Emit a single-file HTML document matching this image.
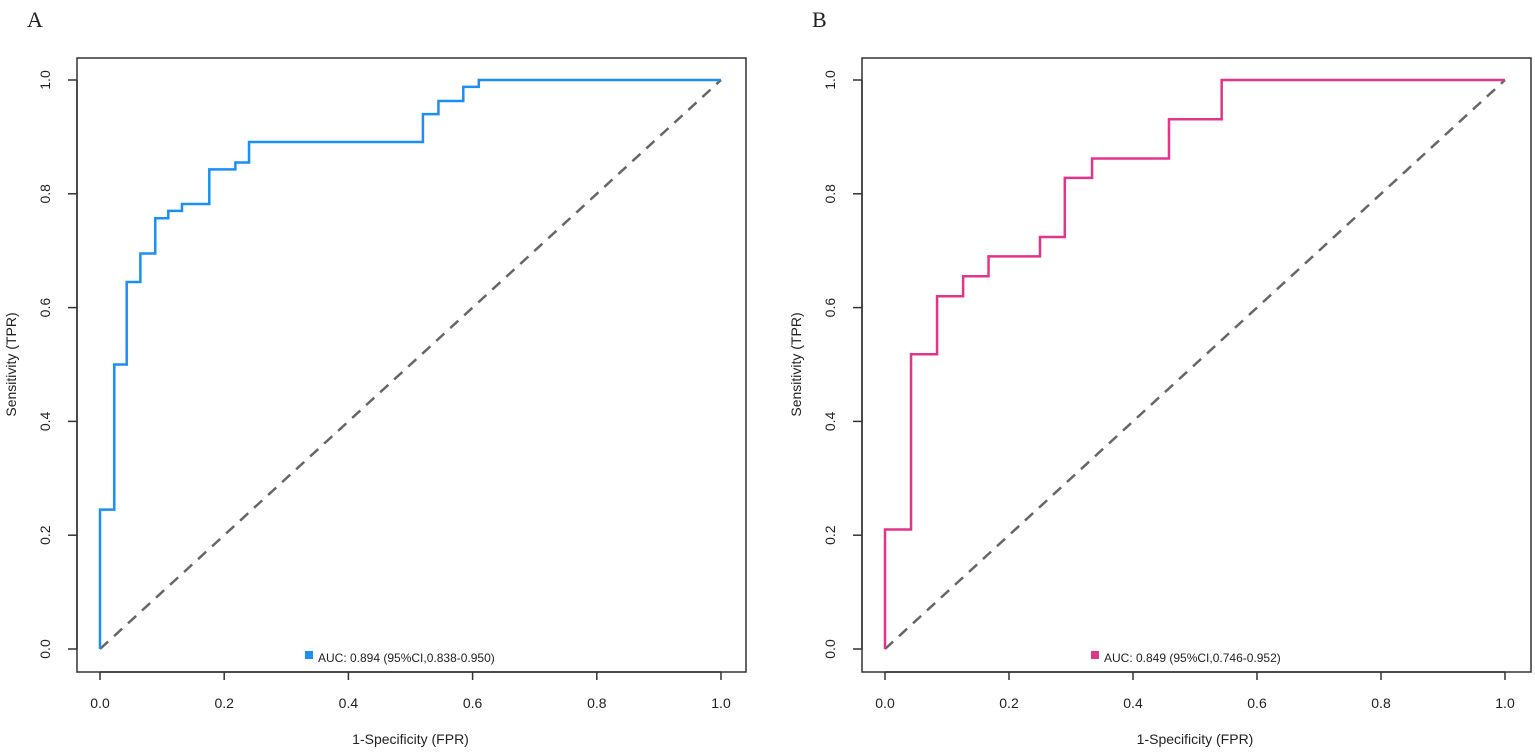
<!DOCTYPE html>
<html><head><meta charset="utf-8">
<style>
html,body{margin:0;padding:0;background:#fff;}
svg text{font-family:"Liberation Sans",Arial,sans-serif;fill:#222;}
</style></head>
<body>
<svg id="chart" width="1535" height="751" viewBox="0 0 1535 751" xmlns="http://www.w3.org/2000/svg"></svg>
<script>
const ticks = [0, 0.2, 0.4, 0.6, 0.8, 1.0];
const tickLabels = ["0.0", "0.2", "0.4", "0.6", "0.8", "1.0"];
const fprA = [0, 0.023, 0.043, 0.065, 0.089, 0.11, 0.132, 0.176, 0.218, 0.24, 0.52, 0.545, 0.585, 0.61];
const tprA = [0.245, 0.5, 0.645, 0.695, 0.757, 0.77, 0.782, 0.843, 0.855, 0.891, 0.94, 0.963, 0.988, 1.0];
const fprB = [0, 0.042, 0.084, 0.126, 0.167, 0.25, 0.29, 0.334, 0.458, 0.543];
const tprB = [0.21, 0.518, 0.62, 0.655, 0.69, 0.724, 0.828, 0.862, 0.931, 1.0];
const labelA = "AUC: 0.894 (95%CI,0.838-0.950)";
const labelB = "AUC: 0.849 (95%CI,0.746-0.952)";

const NS = "http://www.w3.org/2000/svg";
const svg = document.getElementById("chart");
function mk(tag, attrs, parent) {
  const e = document.createElementNS(NS, tag);
  for (const k in attrs) e.setAttribute(k, attrs[k]);
  (parent || svg).appendChild(e);
  return e;
}

function panel(cfg) {
  const g = mk("g", {});
  
  
  const X = v => cfg.x0 + v * (cfg.x1 - cfg.x0);
  const Y = v => 649 - v * 569;

  const letter = mk("text", {x: cfg.letterX, y: 27, "font-family": "Liberation Serif,serif", "font-size": 22, style: "font-family:'Liberation Serif',serif"}, g);
  letter.textContent = cfg.letter;
  
  

  const box = mk("rect", {x: cfg.bl, y: 58, width: cfg.br - cfg.bl, height: 614, fill: "none", stroke: "#333", "stroke-width": 1.5}, g);
  
  

  // x axis
  const xa = mk("g", {}, g);
  
  
  mk("line", {x1: X(0), x2: X(1), y1: 672, y2: 672, stroke: "#333", "stroke-width": 1.5}, xa);
  ticks.forEach((t, i) => {
    mk("line", {x1: X(t), x2: X(t), y1: 672, y2: 680, stroke: "#333", "stroke-width": 1.5}, xa);
    const tl = mk("text", {x: X(t), y: 708, "text-anchor": "middle", "font-size": 14}, xa);
    tl.textContent = tickLabels[i];
    
    
  });
  const xt = mk("text", {x: (X(0) + X(1)) / 2, y: 744, "text-anchor": "middle", "font-size": 14}, g);
  xt.textContent = "1-Specificity (FPR)";
  
  

  // y axis
  const ya = mk("g", {}, g);
  
  
  mk("line", {x1: cfg.bl, x2: cfg.bl, y1: Y(0), y2: Y(1), stroke: "#333", "stroke-width": 1.5}, ya);
  ticks.forEach((t, i) => {
    mk("line", {x1: cfg.bl - 9, x2: cfg.bl, y1: Y(t), y2: Y(t), stroke: "#333", "stroke-width": 1.5}, ya);
    const lx = cfg.bl - 27, ly = Y(t);
    const tl = mk("text", {x: lx, y: ly, "text-anchor": "middle", "font-size": 14, transform: `rotate(-90 ${lx} ${ly})`}, ya);
    tl.textContent = tickLabels[i];
    
    
  });
  const tx = cfg.bl - 61, ty = Y(0.5);
  const yt = mk("text", {x: tx, y: ty, "text-anchor": "middle", "font-size": 14, transform: `rotate(-90 ${tx} ${ty})`}, g);
  yt.textContent = "Sensitivity (TPR)";
  
  

  // diagonal
  const d = mk("line", {x1: X(0), y1: Y(0), x2: X(1), y2: Y(1), stroke: "#666", "stroke-width": 2.5, "stroke-dasharray": "11 8"}, g);
  
  

  // ROC curve
  let p = `M${X(0)},${Y(0)}`;
  cfg.fpr.forEach((f, i) => { p += ` H${X(f)} V${Y(cfg.tpr[i])}`; });
  p += ` H${X(1)}`;
  const c = mk("path", {d: p, fill: "none", stroke: cfg.color, "stroke-width": 2.5}, g);
  
  

  // legend
  const lg = mk("g", {}, g);
  
  
  mk("rect", {x: cfg.legX, y: 651, width: 8, height: 8, fill: cfg.color}, lg);
  const lt = mk("text", {x: cfg.legX + 13, y: 662, "font-size": 12}, lg);
  lt.textContent = cfg.label;
}

panel({name: "panel-a", letter: "A", letterX: 27, bl: 77, br: 746, x0: 100, x1: 721, fpr: fprA, tpr: tprA, color: "#1a8ff5", legX: 305, label: labelA});
panel({name: "panel-b", letter: "B", letterX: 812, bl: 862, br: 1531, x0: 885, x1: 1505, fpr: fprB, tpr: tprB, color: "#e0358a", legX: 1091, label: labelB});
</script>
</body></html>
